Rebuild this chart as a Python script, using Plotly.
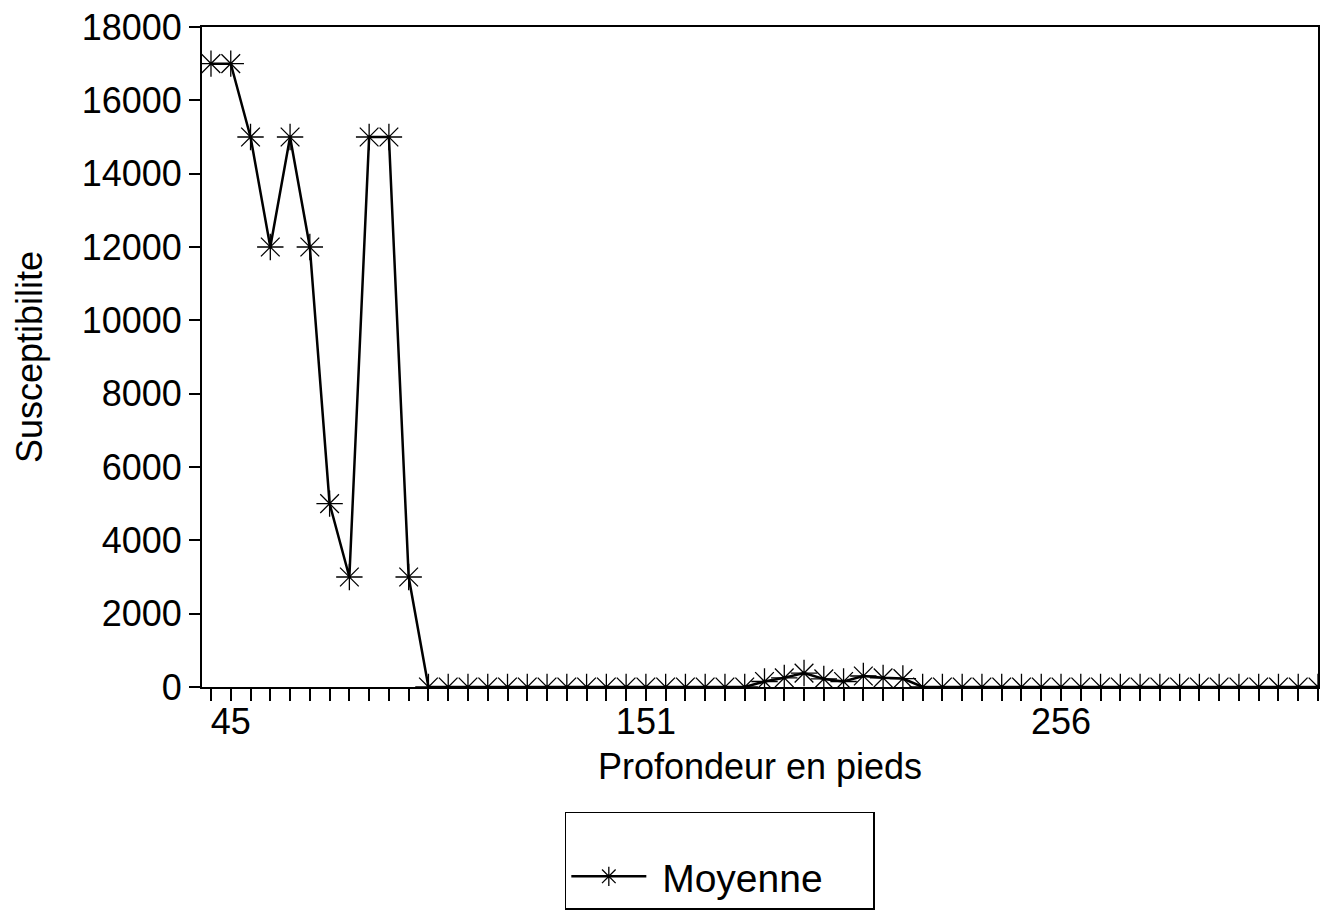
import plotly.graph_objects as go

# Position index of each sample along the borehole (categorical depth steps)
sample_index = list(range(57))

# Moyenne susceptibility values
moyenne = [
    17000, 17000, 15000, 12000, 15000, 12000, 5000, 3000, 15000, 15000, 3000,
    0, 0, 0, 0, 0, 0, 0, 0, 0, 0, 0, 0, 0, 0, 0, 0, 0,
    150, 250, 380, 220, 150, 300, 250, 230,
    0, 0, 0, 0, 0, 0, 0, 0, 0, 0, 0, 0, 0, 0, 0, 0, 0, 0, 0, 0, 0,
]

# Depth tick labels (only three are printed on the axis)
label_index = [1, 22, 43]
label_text = ["45", "151", "256"]

y_ticks = list(range(0, 18001, 2000))
y_ticktext = [str(v) for v in y_ticks]

ticktext = [""] * len(sample_index)
for i, t in zip(label_index, label_text):
    ticktext[i] = t

FONT = "Liberation Sans, Arial, Helvetica, sans-serif"

fig = go.Figure()
fig.add_trace(go.Scatter(
    x=sample_index,
    y=moyenne,
    mode="lines+markers",
    name="\u00a0Moyenne",
    line=dict(color="black", width=2.5),
    marker=dict(symbol="asterisk-open", size=22, color="black",
                line=dict(color="black", width=1.3)),
))

fig.update_layout(
    width=1322, height=915,
    margin=dict(l=202, r=2, t=27, b=228),
    paper_bgcolor="white", plot_bgcolor="white",
    font=dict(family=FONT, size=36, color="black"),
    showlegend=True,
    legend=dict(
        orientation="h",
        x=0.464, xanchor="center", y=-0.189, yanchor="top",
        bordercolor="black", borderwidth=1.5,
        font=dict(size=39, family=FONT, color="black"),
        title=dict(text=" ", side="top", font=dict(size=24, family=FONT)),
        itemwidth=75,
        entrywidth=217,
        entrywidthmode="pixels",
        bgcolor="white",
    ),
)

fig.update_xaxes(
    range=[-0.455, 56],
    tickmode="array", tickvals=sample_index, ticktext=ticktext,
    ticks="outside", ticklen=12, tickwidth=2, tickcolor="black",
    ticklabelstandoff=-10,
    showline=True, linecolor="black", linewidth=2, mirror=True,
    showgrid=False, zeroline=False,
    tickfont=dict(size=36, family=FONT, color="black"),
    title=dict(text="Profondeur en pieds", font=dict(size=36, family=FONT, color="black"),
               standoff=13),
)

fig.update_yaxes(
    range=[0, 18000],
    tickmode="array", tickvals=y_ticks, ticktext=y_ticktext,
    ticks="outside", ticklen=11, tickwidth=1.5, tickcolor="black",
    showline=True, linecolor="black", linewidth=2, mirror=True,
    showgrid=False, zeroline=False,
    tickfont=dict(size=36, family=FONT, color="black"),
    title=dict(text="Susceptibilite", font=dict(size=36, family=FONT, color="black"),
               standoff=28),
)

fig.write_html("out.html")
